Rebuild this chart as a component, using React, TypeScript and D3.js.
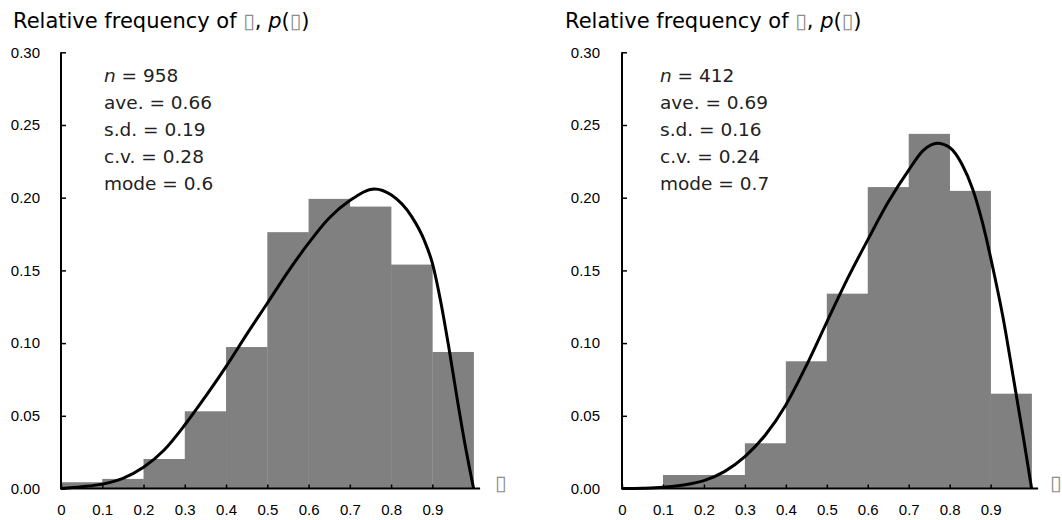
import React, { useEffect, useRef } from "react";
import * as d3 from "d3";

// histogram bins (left edge, width 0.1)
const binStarts = [0, 0.1, 0.2, 0.3, 0.4, 0.5, 0.6, 0.7, 0.8, 0.9];
const leftFreq = [0.0043, 0.0066, 0.0203, 0.0531, 0.0973, 0.1763, 0.1992, 0.1939, 0.154, 0.0939];
const rightFreq = [0, 0.0093, 0.0093, 0.0311, 0.0875, 0.134, 0.2073, 0.2439, 0.2047, 0.0652];

// fitted curves
const leftCurveX = [0, 0.05, 0.1, 0.15, 0.2, 0.25, 0.3, 0.35, 0.4, 0.45, 0.5, 0.55, 0.6, 0.65, 0.7, 0.76, 0.8, 0.85, 0.88, 0.9, 0.92, 0.94, 0.96, 0.98, 1.0];
const leftCurveY = [0, 0.0012, 0.003, 0.007, 0.0146, 0.0265, 0.0437, 0.0632, 0.0838, 0.106, 0.1274, 0.149, 0.1687, 0.186, 0.198, 0.206, 0.202, 0.187, 0.171, 0.155, 0.129, 0.097, 0.062, 0.029, 0];
const rightCurveX = [0, 0.05, 0.1, 0.15, 0.2, 0.25, 0.3, 0.35, 0.4, 0.45, 0.5, 0.55, 0.6, 0.65, 0.7, 0.735, 0.77, 0.8, 0.83, 0.856, 0.88, 0.906, 0.93, 0.955, 0.98, 1.0];
const rightCurveY = [0, 0.0002, 0.0008, 0.0024, 0.0054, 0.0116, 0.0219, 0.0368, 0.0575, 0.0845, 0.1145, 0.144, 0.171, 0.197, 0.219, 0.2324, 0.2375, 0.2345, 0.223, 0.206, 0.183, 0.151, 0.118, 0.077, 0.035, 0];

const yTicks = [0, 0.05, 0.1, 0.15, 0.2, 0.25, 0.3];
const xTicks = [0, 0.1, 0.2, 0.3, 0.4, 0.5, 0.6, 0.7, 0.8, 0.9];

const statLabels = ["n", "ave.", "s.d.", "c.v.", "mode"];
const leftStats = ["958", "0.66", "0.19", "0.28", "0.6"];
const rightStats = ["412", "0.69", "0.16", "0.24", "0.7"];

const TOFU = "\u25AF";
const textFont = "'DejaVu Sans', sans-serif";
const tickFont = "'Liberation Sans', Arial, sans-serif";

const drawPanel = (svg, opts) => {
  const { x0, x1, titleX, statX, freq, curveX, curveY, stats, labelPad, tofuX } = opts;
  const g = svg.append("g");

  const xScale = d3.scaleLinear().domain([0, 1]).range([x0, x1]);
  const yScale = d3.scaleLinear().domain([0, 0.3]).range([488.5, 52.3]);

  // title
  const title = g
    .append("text")
    .attr("x", titleX)
    .attr("y", 28)
    .style("font-family", textFont)
    .style("font-size", "21px")
    .attr("fill", "#000");
  title.append("tspan").text("Relative frequency of ");
  title.append("tspan").text(TOFU).attr("fill", "#8c8c8c");
  title.append("tspan").text(", ");
  title.append("tspan").text("p").style("font-style", "italic");
  title.append("tspan").text("(");
  title.append("tspan").text(TOFU).attr("fill", "#8c8c8c");
  title.append("tspan").text(")");

  // bars
  g.selectAll("rect.bar")
    .data(binStarts.map((b, i) => ({ b, v: freq[i] })).filter((d) => d.v > 0))
    .enter()
    .append("rect")
    .attr("class", "bar")
    .attr("x", (d) => xScale(d.b))
    .attr("y", (d) => yScale(d.v))
    .attr("width", (d) => xScale(d.b + 0.1) - xScale(d.b) + 0.3)
    .attr("height", (d) => yScale(0) - yScale(d.v))
    .attr("fill", "#808080");

  // curve
  const line = d3
    .line()
    .x((d) => xScale(d[0]))
    .y((d) => yScale(d[1]))
    .curve(d3.curveMonotoneX);
  g.append("path")
    .attr("d", line(curveX.map((x, i) => [x, curveY[i]])))
    .attr("fill", "none")
    .attr("stroke", "#000")
    .attr("stroke-width", 3)
    .attr("stroke-linejoin", "round");

  // y axis
  const yAxis = g
    .append("g")
    .attr("transform", `translate(${x0},0)`)
    .call(
      d3
        .axisLeft(yScale)
        .tickValues(yTicks)
        .tickSize(-5)
        .tickSizeOuter(0)
        .tickPadding(labelPad)
        .tickFormat(d3.format(".2f"))
    );
  yAxis.select(".domain").remove();
  yAxis.selectAll("line").attr("stroke", "#000").attr("stroke-width", 1.5);
  yAxis.selectAll("text").style("font-family", tickFont).style("font-size", "15px").attr("fill", "#000");

  // x axis
  const xAxis = g
    .append("g")
    .attr("transform", `translate(0,${yScale(0)})`)
    .call(
      d3
        .axisBottom(xScale)
        .tickValues(xTicks)
        .tickSize(-4)
        .tickSizeOuter(0)
        .tickPadding(16)
        .tickFormat((d) => (d === 0 ? "0" : d3.format(".1f")(d)))
    );
  xAxis.select(".domain").remove();
  xAxis.selectAll("line").attr("stroke", "#000").attr("stroke-width", 1.5);
  xAxis.selectAll("text").style("font-family", tickFont).style("font-size", "15px").attr("fill", "#000");

  // axis lines
  g.append("line")
    .attr("x1", x0)
    .attr("x2", x0)
    .attr("y1", yScale(0.3))
    .attr("y2", yScale(0) + 1)
    .attr("stroke", "#000")
    .attr("stroke-width", 2);
  g.append("line")
    .attr("x1", x0)
    .attr("x2", xScale(1) + 6.5)
    .attr("y1", yScale(0))
    .attr("y2", yScale(0))
    .attr("stroke", "#000")
    .attr("stroke-width", 2);

  // x axis variable (missing glyph)
  g.append("text")
    .attr("x", tofuX)
    .attr("y", 490)
    .text(TOFU)
    .attr("fill", "#8c8c8c")
    .style("font-family", textFont)
    .style("font-size", "21px");

  // stats block
  const stat = g
    .append("text")
    .style("font-family", textFont)
    .style("font-size", "18.5px")
    .attr("fill", "#222");
  statLabels.forEach((lab, i) => {
    const t = stat.append("tspan").attr("x", statX).attr("y", 82 + i * 27.1);
    if (lab === "n") {
      t.append("tspan").text("n").style("font-style", "italic");
      t.append("tspan").text(` = ${stats[i]}`);
    } else {
      t.text(`${lab} = ${stats[i]}`);
    }
  });
};

const App = () => {
  const svgRef = useRef(null);

  useEffect(() => {
    const svg = d3.select(svgRef.current);
    svg.selectAll("*").remove();

    drawPanel(svg, {
      x0: 61,
      x1: 473.6,
      titleX: 13,
      statX: 104,
      freq: leftFreq,
      curveX: leftCurveX,
      curveY: leftCurveY,
      stats: leftStats,
      labelPad: 21,
      tofuX: 495,
    });
    drawPanel(svg, {
      x0: 622,
      x1: 1031.6,
      titleX: 565,
      statX: 660,
      freq: rightFreq,
      curveX: rightCurveX,
      curveY: rightCurveY,
      stats: rightStats,
      labelPad: 22,
      tofuX: 1050,
    });
  }, []);

  return (
    <svg
      ref={svgRef}
      width={1062}
      height={520}
      style={{ position: "absolute", left: 0, top: 0, background: "#fff" }}
    ></svg>
  );
};

export default App;
